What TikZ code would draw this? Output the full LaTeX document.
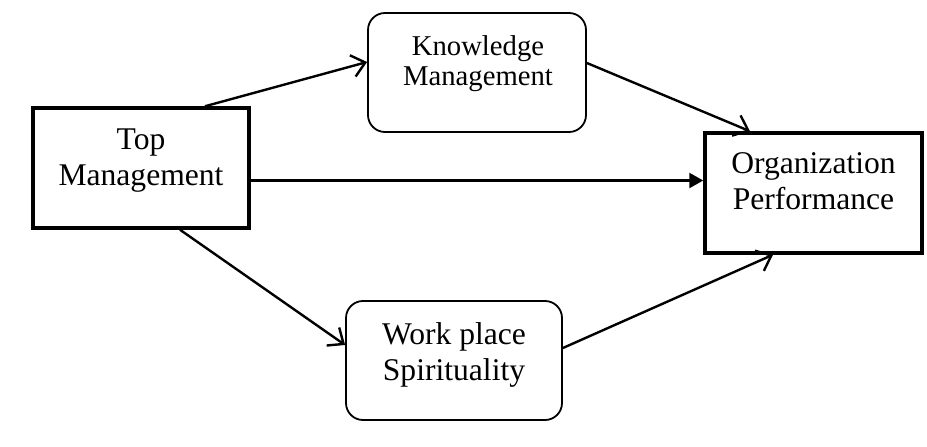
\documentclass[tikz,border=0pt]{standalone}
\usepackage{fontspec}
\setmainfont{Liberation Serif}
\usetikzlibrary{arrows.meta}
\begin{document}
\begin{tikzpicture}[x=1pt,y=-1pt,
  thickbox/.style={draw,line width=3.5pt,minimum width=216pt,minimum height=120pt,inner sep=0pt},
  softbox/.style={draw,line width=1.8pt,rounded corners=17pt,minimum width=216pt,minimum height=119pt,inner sep=0pt},
  bigtext/.style={anchor=base,inner sep=0pt,font=\fontsize{31.6}{36}\selectfont},
  smalltext/.style={anchor=base,inner sep=0pt,font=\fontsize{28.7}{30}\selectfont},
  openarrow/.style={line width=2.4pt,-{Straight Barb[length=13pt,width=22pt,line width=2.4pt]}},
  solidarrow/.style={line width=2.4pt,-{Triangle[length=14pt,width=15pt]}}]
\useasboundingbox (0,0) rectangle (927,447);

% boxes
\node[thickbox] (tm) at (141,168) {};
\node[softbox,minimum width=218pt] (km) at (477,72.5) {};
\node[thickbox,minimum width=217pt] (op) at (813.5,193) {};
\node[softbox] (ws) at (454,360.5) {};

% box texts
\node[bigtext] (tmtext) at (141,149) {\begin{tabular}[t]{@{}c@{}}Top\\Management\end{tabular}};
\node[smalltext] (kmtext) at (478,55) {\begin{tabular}[t]{@{}c@{}}Knowledge\\Management\end{tabular}};
\node[bigtext] (optext) at (813.5,173) {\begin{tabular}[t]{@{}c@{}}Organization\\Performance\end{tabular}};
\node[bigtext] (wstext) at (454,344) {\begin{tabular}[t]{@{}c@{}}Work place\\Spirituality\end{tabular}};

% connectors
\draw[openarrow] ([xshift=64pt]tm.north) -- ([yshift=10.5pt]km.west);
\draw[openarrow] ([yshift=9.5pt]km.east) -- ([xshift=-63.5pt]op.north);
\draw[solidarrow] ([yshift=-12.5pt]tm.east) -- ([yshift=-12.5pt]tm.east -| op.west);
\draw[openarrow] ([xshift=39pt]tm.south) -- ([yshift=15.5pt]ws.west);
\draw[openarrow] ([yshift=12.5pt]ws.east) -- ([xshift=-40.5pt]op.south);
\end{tikzpicture}
\end{document}
